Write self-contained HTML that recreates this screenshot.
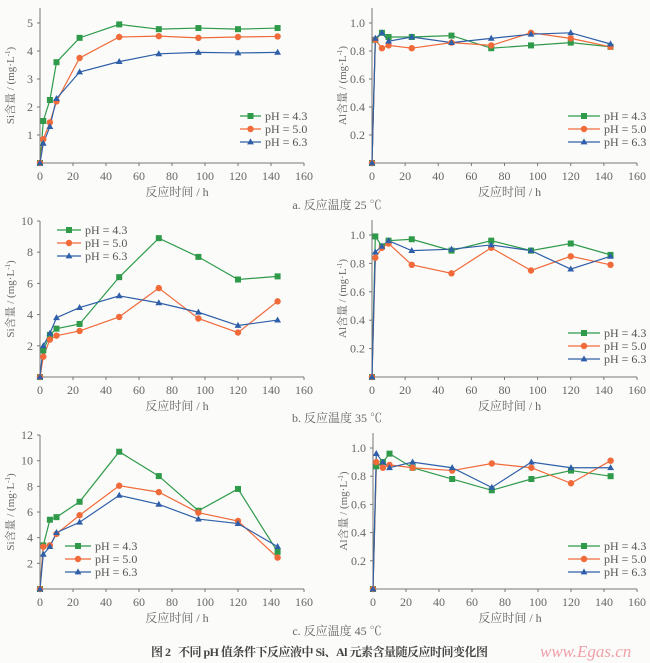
<!DOCTYPE html>
<html><head><meta charset="utf-8"><style>
html,body{margin:0;padding:0;background:#fbfbf9;}
svg{display:block;font-family:"Liberation Serif","Noto Serif CJK SC",serif;}
</style></head><body>
<svg id="s" width="650" height="663" xmlns="http://www.w3.org/2000/svg"></svg>
<script>
const X=[0,2,6,10,24,48,72,96,120,144];
const C=['#2e9a4a','#f06a3a','#2f5fa8'];
const P=[
 {x0:40,x1:304,y0:163,ytop:8,ymaxv:5.5,yunitPx:28,ticks:[1,2,3,4,5],fmt:0,lab:'Si含量 / (mg·L',leg:[240,265,116],
  d:[[0,1.5,2.25,3.6,4.47,4.95,4.78,4.82,4.78,4.82],[0,0.85,1.45,2.2,3.75,4.5,4.53,4.47,4.5,4.52],[0,0.7,1.3,2.3,3.25,3.62,3.9,3.95,3.93,3.95]]},
 {x0:372,x1:637,y0:163,ytop:8,yunitPx:140,ticks:[0.2,0.4,0.6,0.8,1.0],fmt:1,lab:'Al含量 / (mg·L',leg:[568,604,116],
  d:[[0,0.88,0.93,0.9,0.9,0.91,0.82,0.84,0.86,0.83],[0,0.88,0.82,0.84,0.82,0.86,0.84,0.93,0.89,0.83],[0,0.89,0.93,0.87,0.9,0.86,0.89,0.92,0.93,0.85]]},
 {x0:40,x1:304,y0:377,ytop:221,yunitPx:15.6,ticks:[2,4,6,8,10],fmt:0,lab:'Si含量 / (mg·L',leg:[57,85,230],
  d:[[0,1.7,2.7,3.1,3.4,6.4,8.9,7.7,6.25,6.45],[0,1.3,2.4,2.65,2.95,3.85,5.7,3.75,2.85,4.85],[0,2.0,2.8,3.8,4.45,5.2,4.75,4.15,3.3,3.65]]},
 {x0:372,x1:637,y0:377,ytop:220,yunitPx:142,ticks:[0.2,0.4,0.6,0.8,1.0],fmt:1,lab:'Al含量 / (mg·L',leg:[568,604,333],
  d:[[0,0.99,0.92,0.96,0.97,0.89,0.96,0.89,0.94,0.86],[0,0.84,0.91,0.94,0.79,0.73,0.91,0.75,0.85,0.79],[0,0.88,0.92,0.96,0.89,0.9,0.93,0.89,0.76,0.85]]},
 {x0:40,x1:304,y0:589,ytop:435,yunitPx:12.83,ticks:[2,4,6,8,10,12],fmt:0,lab:'Si含量 / (mg·L',leg:[65,95,546],
  d:[[0,3.4,5.4,5.6,6.8,10.7,8.8,6.1,7.8,2.9],[0,3.3,3.4,4.3,5.75,8.05,7.55,5.95,5.3,2.45],[0,2.7,3.3,4.4,5.2,7.3,6.6,5.45,5.1,3.3]]},
 {x0:373,x1:637,y0:589,ytop:433,yunitPx:141,ticks:[0.2,0.4,0.6,0.8,1.0],fmt:1,lab:'Al含量 / (mg·L',leg:[568,604,546],
  d:[[0,0.87,0.9,0.96,0.86,0.78,0.7,0.78,0.84,0.8],[0,0.9,0.86,0.88,0.86,0.84,0.89,0.86,0.75,0.91],[0,0.96,0.9,0.86,0.9,0.86,0.72,0.9,0.86,0.86]]}
];
let h='';
const T=(x,y,t,o='')=>h+=`<text x="${x}" y="${y}" ${o}>${t}</text>`;
function mark(k,x,y){
 if(k==0)h+=`<rect x="${x-3}" y="${y-3}" width="6" height="6" fill="${C[0]}"/>`;
 else if(k==1)h+=`<circle cx="${x}" cy="${y}" r="3.2" fill="${C[1]}"/>`;
 else h+=`<polygon points="${x},${y-3.6} ${x+3.4},${y+2.4} ${x-3.4},${y+2.4}" fill="${C[2]}"/>`;
}
P.forEach(p=>{
 const sx=v=>p.x0+(p.x1-p.x0)*v/160, sy=v=>p.y0-v*p.yunitPx;
 h+=`<g stroke="#777" stroke-width="1" fill="none"><line x1="${p.x0}" y1="${p.ytop}" x2="${p.x0}" y2="${p.y0}"/><line x1="${p.x0}" y1="${p.y0}" x2="${p.x1}" y2="${p.y0}"/>`;
 for(let i=0;i<=160;i+=20)h+=`<line x1="${sx(i)}" y1="${p.y0}" x2="${sx(i)}" y2="${p.y0+3}"/>`;
 p.ticks.forEach(t=>h+=`<line x1="${p.x0-3}" y1="${sy(t)}" x2="${p.x0}" y2="${sy(t)}"/>`);
 h+='</g><g fill="#666" font-size="12">';
 for(let i=0;i<=160;i+=20)T(sx(i),p.y0+17,i,'text-anchor="middle"');
 p.ticks.forEach(t=>T(p.x0-7,sy(t)+4,p.fmt?t.toFixed(1):t,'text-anchor="end"'));
 T(p.x0-9,p.y0+17,'','');
 T((p.x0+p.x1)/2+5,p.y0+33,'反应时间 / h','text-anchor="middle" font-size="12"');
 const my=(p.ytop+p.y0)/2;
 h+=`<text transform="translate(${p.x0-26},${my}) rotate(-90)" text-anchor="middle" font-size="11">${p.lab}<tspan dy="-4" font-size="7">-1</tspan><tspan dy="4">)</tspan></text>`;
 h+='</g>';
 p.d.forEach((s,k)=>{
  h+=`<polyline fill="none" stroke="${C[k]}" stroke-width="1.2" points="${s.map((v,i)=>sx(X[i])+','+sy(v)).join(' ')}"/>`;
 });
 p.d.forEach((s,k)=>s.forEach((v,i)=>mark(k,sx(X[i]),sy(v))));
 ['pH = 4.3','pH = 5.0','pH = 6.3'].forEach((t,k)=>{
  const [lx,tx,ly]=p.leg, y=ly+k*13;
  h+=`<line x1="${lx}" y1="${y}" x2="${tx-4}" y2="${y}" stroke="${C[k]}" stroke-width="1.2"/>`;
  mark(k,(lx+tx-4)/2,y);
  T(tx,y+4,t,'fill="#555" font-size="12"');
 });
});
h+=`<g fill="#666" font-size="12" text-anchor="middle">`;
T(337,209,'a. 反应温度 25 ℃');T(337,422,'b. 反应温度 35 ℃');T(337,635,'c. 反应温度 45 ℃');
h+='</g>';
T(151,656,'图 2&#160;&#160;&#160;不同 pH 值条件下反应液中 Si、Al 元素含量随反应时间变化图','fill="#444" font-size="12" font-weight="bold" textLength="337" lengthAdjust="spacing"');
T(540,657,'www.Egas.cn','fill="#f0a0a8" font-size="17" font-style="italic" font-family="Liberation Serif,serif"');
document.getElementById('s').innerHTML=h;
</script>
</body></html>
